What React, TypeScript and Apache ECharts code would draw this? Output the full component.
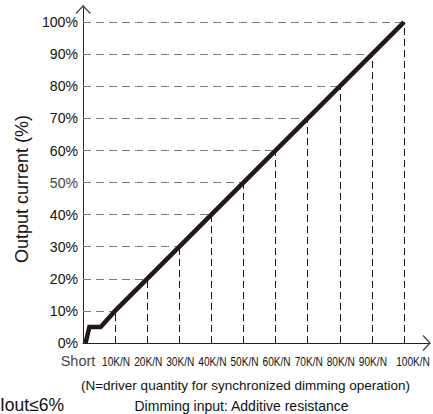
import React, { useEffect, useRef } from "react";
import * as echarts from "echarts";

// ---- data ----
const xTickLabels = ["Short", "10K/N", "20K/N", "30K/N", "40K/N", "50K/N", "60K/N", "70K/N", "80K/N", "90K/N", "100K/N"];
const curveX = [0.08, 0.2, 0.55, 1, 10];
const curveY = [0, 5, 5, 10, 100];
const guideX = [1, 2, 3, 4, 5, 6, 7, 8, 9, 10];
const guideY = [10, 20, 30, 40, 50, 60, 70, 80, 90, 100];
const yTickValues = [0, 10, 20, 30, 40, 50, 60, 70, 80, 90, 100];
const yTickLabels = ["0%", "10%", "20%", "30%", "40%", "50%", "60%", "70%", "80%", "90%", "100%"];
const yAxisTitle = "Output current (%)";
const noteText = "(N=driver quantity for synchronized dimming operation)";
const xAxisTitle = "Dimming input: Additive resistance";
const cornerText = "Iout≤6%";

const X_MAX = 10.81;
const Y_MAX = 105;
const FONT = "'Liberation Sans', Arial, sans-serif";

function baseOption(): any {
  const markData: any[] = [];
  guideX.forEach((gx, i) => {
    const gy = guideY[i];
    markData.push([
      { coord: [0, gy], lineStyle: { color: "#7a7a7a", type: [8, 5], width: 1 } },
      { coord: [gx, gy] },
    ]);
    markData.push([
      { coord: [gx, 0], lineStyle: { color: "#1a1a1a", type: [7, 4], width: 1 } },
      { coord: [gx, gy] },
    ]);
  });
  return {
    animation: false,
    grid: { left: 83, right: 3, top: 6, bottom: 71, containLabel: false },
    xAxis: {
      type: "value",
      min: 0,
      max: X_MAX,
      interval: 1,
      splitLine: { show: false },
      axisTick: { show: false },
      axisLabel: { show: false },
      axisLine: { show: true, lineStyle: { color: "#222", width: 1 } },
    },
    yAxis: {
      type: "value",
      min: 0,
      max: Y_MAX,
      interval: 10,
      splitLine: { show: false },
      axisTick: { show: false },
      axisLabel: { show: false },
      axisLine: { show: true, lineStyle: { color: "#222", width: 1 } },
    },
    series: [
      {
        type: "line",
        data: curveX.map((x, i) => [x, curveY[i]]),
        showSymbol: false,
        symbol: "none",
        lineStyle: { color: "#231815", width: 4.5, cap: "butt", join: "miter" },
        z: 5,
        markLine: {
          silent: true,
          symbol: ["none", "none"],
          label: { show: false },
          emphasis: { disabled: true },
          data: markData,
          z: 2,
        },
      },
    ],
  };
}

export default function App() {
  const ref = useRef<HTMLDivElement>(null);
  useEffect(() => {
    if (!ref.current) return;
    // measuring pass: the library lays out the axes, then pixel positions are read back
    const probe = echarts.init(ref.current, null, { renderer: "svg" });
    probe.setOption(baseOption());
    const px = (x: number, y: number) => probe.convertToPixel({ xAxisIndex: 0, yAxisIndex: 0 }, [x, y]) as number[];
    const [xEnd, yZero] = px(X_MAX, 0);
    const [xZero, yTop] = px(0, Y_MAX);
    const xTickPx = xTickLabels.map((_, i) => px(i, 0)[0]);
    const yTickPx = yTickValues.map((v) => px(0, v)[1]);
    probe.dispose();

    const chart = echarts.init(ref.current, null, { renderer: "svg" });

    const xLabelEls: any[] = xTickLabels.map((label, i) => {
      const lx = xTickPx[i];
      if (i === 0) {
        return {
          type: "text",
          x: lx - 5,
          y: yZero + 17.5,
          style: { text: label, fontFamily: FONT, fontSize: 14.5, fill: "#444", align: "center", verticalAlign: "middle" },
          silent: true,
        };
      }
      return {
        type: "text",
        x: lx + (i === 10 ? 9 : 1),
        y: yZero + 18,
        scaleX: 0.75,
        style: { text: label, fontFamily: FONT, fontSize: 13.5, fill: "#111", align: "center", verticalAlign: "middle" },
        silent: true,
      };
    });

    const yLabelEls: any[] = yTickLabels.map((label, i) => ({
      type: "text",
      x: xZero - 5,
      y: yTickPx[i],
      scaleX: 0.94,
      style: { text: label, fontFamily: FONT, fontSize: 15, fill: i === 5 ? "#444" : "#111", align: "right", verticalAlign: "middle" },
      silent: true,
    }));

    const opt = baseOption();
    opt.graphic = [
      {
        type: "polyline",
        shape: { points: [[xEnd - 7, yZero - 7.5], [xEnd, yZero], [xEnd - 7, yZero + 7.5]] },
        style: { stroke: "#444", lineWidth: 1.3, fill: "none" },
        silent: true,
        z: 10,
      },
      {
        type: "polyline",
        shape: { points: [[xZero - 7, yTop + 7.5], [xZero, yTop], [xZero + 7.5, yTop + 7.5]] },
        style: { stroke: "#444", lineWidth: 1.3, fill: "none" },
        silent: true,
        z: 10,
      },
      ...xLabelEls,
      ...yLabelEls,
      {
        type: "text",
        x: 22,
        y: 189,
        rotation: Math.PI / 2,
        style: { text: yAxisTitle, fontFamily: FONT, fontSize: 18, fill: "#111", align: "center", verticalAlign: "middle" },
        silent: true,
      },
      {
        type: "text",
        x: 245.5,
        y: 385.5,
        style: { text: noteText, fontFamily: FONT, fontSize: 13.5, fill: "#111", align: "center", verticalAlign: "middle" },
        silent: true,
      },
      {
        type: "text",
        x: 241.5,
        y: 405.5,
        style: { text: xAxisTitle, fontFamily: FONT, fontSize: 14, fill: "#111", align: "center", verticalAlign: "middle" },
        silent: true,
      },
      {
        type: "text",
        x: 0,
        y: 405,
        style: { text: cornerText, fontFamily: FONT, fontSize: 17.5, fill: "#111", align: "left", verticalAlign: "middle" },
        silent: true,
      },
    ];
    chart.setOption(opt);

    return () => chart.dispose();
  }, []);

  return (
    <div
      ref={ref}
      style={{ position: "absolute", left: 0, top: 0, width: 433, height: 414, background: "#fff" }}
    />
  );
}
